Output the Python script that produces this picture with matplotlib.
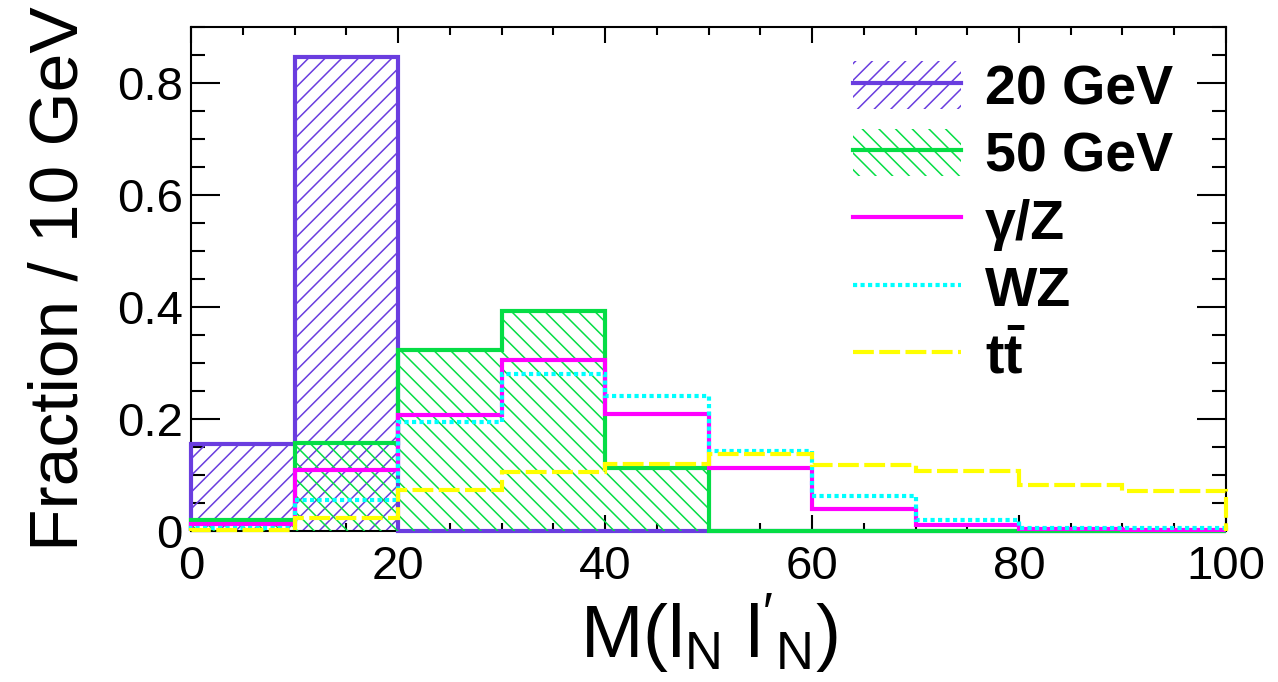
import matplotlib
matplotlib.use('Agg')
import matplotlib.pyplot as plt
from matplotlib.patches import Patch
from matplotlib.lines import Line2D
from matplotlib.legend_handler import HandlerTuple
from matplotlib.ticker import FixedLocator, MultipleLocator, FixedFormatter

plt.rcParams['font.family'] = ['Liberation Sans', 'DejaVu Sans']
plt.rcParams['mathtext.fontset'] = 'custom'
plt.rcParams['mathtext.rm'] = 'Liberation Sans'
plt.rcParams['mathtext.it'] = 'Liberation Sans:italic'
plt.rcParams['mathtext.bf'] = 'Liberation Sans:bold'
plt.rcParams['hatch.linewidth'] = 1.1

# histogram data, 10 GeV bins
edges = [0, 10, 20, 30, 40, 50, 60, 70, 80, 90, 100]
mass_20 = [0.155, 0.846, 0, 0, 0, 0, 0, 0, 0, 0]
mass_50 = [0.020, 0.157, 0.324, 0.392, 0.112, 0, 0, 0, 0, 0]
gamma_z = [0.013, 0.109, 0.208, 0.305, 0.209, 0.113, 0.040, 0.011, 0.004, 0.001]
wz = [0.006, 0.056, 0.195, 0.280, 0.241, 0.142, 0.063, 0.020, 0.006, 0.005]
ttbar = [0.002, 0.024, 0.074, 0.106, 0.120, 0.137, 0.118, 0.108, 0.082, 0.072]

labels = ['20 GeV', '50 GeV', 'γ/Z', 'WZ', r'$\mathbf{t\bar{t}}$']
x_ticks = [0, 20, 40, 60, 80, 100]
y_ticks = [0, 0.2, 0.4, 0.6, 0.8]
y_tick_labels = ['0', '0.2', '0.4', '0.6', '0.8']

purple = '#6a3ddf'
green = '#05dd45'
magenta = '#ff00ff'
cyan = '#00ffff'
yellow = '#ffff00'

fig = plt.figure(figsize=(12.78, 6.82), dpi=100)
ax = fig.add_axes([0.1495, 0.2214, 0.8098, 0.739])

lw = 3
dotted = (0, (1, 0.8))
dashed = (0, (5, 1.3))

# filled (hatched) signal histograms
ax.stairs(mass_20, edges, fill=True, facecolor='none', edgecolor=purple, hatch='//', linewidth=0, zorder=2)
ax.stairs(mass_20, edges, color=purple, linewidth=lw, zorder=3, clip_on=False)
ax.stairs(mass_50, edges, fill=True, facecolor='none', edgecolor=green, hatch='\\\\', linewidth=0, zorder=4)
ax.stairs(mass_50, edges, color=green, linewidth=lw, zorder=5, clip_on=False)

# backgrounds
ax.stairs(gamma_z, edges, color=magenta, linewidth=lw, zorder=6, clip_on=False)
ax.stairs(wz, edges, color=cyan, linewidth=lw, linestyle=dotted, zorder=7, clip_on=False)
ax.stairs(ttbar, edges, color=yellow, linewidth=lw, linestyle=dashed, zorder=8, clip_on=False)

ax.set_xlim(0, 100)
ax.set_ylim(0, 0.9)

ax.xaxis.set_major_locator(FixedLocator(x_ticks))
ax.xaxis.set_minor_locator(MultipleLocator(5))
ax.yaxis.set_major_locator(FixedLocator(y_ticks))
ax.yaxis.set_major_formatter(FixedFormatter(y_tick_labels))
ax.yaxis.set_minor_locator(MultipleLocator(0.05))

for s in ax.spines.values():
    s.set_linewidth(1.5)
ax.tick_params(axis='both', which='both', direction='in', width=1.5, top=True, right=True,
               labelsize=34)
ax.tick_params(axis='x', which='major', length=11.5, pad=10)
ax.tick_params(axis='x', which='minor', length=5.8)
ax.tick_params(axis='y', which='major', length=21, pad=6)
ax.tick_params(axis='y', which='minor', length=10)

ax.set_xlabel(r"$\mathregular{M(l_{N}\ l'_{N})}$", fontsize=54, labelpad=2)
ax.set_ylabel('Fraction / 10 GeV', fontsize=50, labelpad=18)

handles = [
    (Patch(facecolor='none', edgecolor=purple, hatch='//', linewidth=0), Line2D([], [], color=purple, lw=lw)),
    (Patch(facecolor='none', edgecolor=green, hatch='\\\\', linewidth=0), Line2D([], [], color=green, lw=lw)),
    Line2D([], [], color=magenta, lw=lw),
    Line2D([], [], color=cyan, lw=lw, linestyle=dotted),
    Line2D([], [], color=yellow, lw=lw, linestyle=dashed),
]
ax.legend(handles, labels, handler_map={tuple: HandlerTuple(ndivide=1, pad=0)},
          loc='upper left', bbox_to_anchor=(0.64, 0.932), frameon=False,
          prop={'family': 'Liberation Sans', 'weight': 'bold', 'size': 40},
          handlelength=1.94, handleheight=0.95, handletextpad=0.43,
          labelspacing=0.22, borderpad=0, borderaxespad=0)

fig.savefig('out.png', dpi=100)
